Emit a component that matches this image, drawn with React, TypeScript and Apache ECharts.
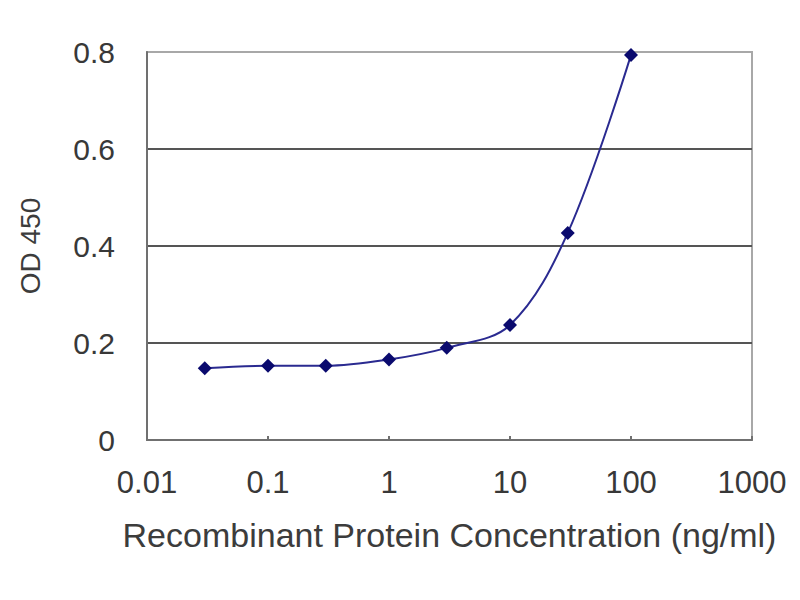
import { useEffect, useRef } from 'react';
import * as echarts from 'echarts';

const concentrations = [0.03, 0.1, 0.3, 1, 3, 10, 30, 100];
const odValues = [0.148, 0.153, 0.153, 0.166, 0.19, 0.237, 0.427, 0.794];
const xTickLabels = ['0.01', '0.1', '1', '10', '100', '1000'];
const yTicks = [0, 0.2, 0.4, 0.6, 0.8];

const fontFamily = '"Liberation Sans", Arial, sans-serif';

export default function App() {
  const chartRef = useRef<HTMLDivElement | null>(null);

  useEffect(() => {
    if (!chartRef.current) {
      return;
    }
    const chart = echarts.init(chartRef.current, undefined, { renderer: 'svg' });
    chart.setOption({
      animation: false,
      backgroundColor: '#ffffff',
      grid: {
        left: 147,
        right: 48,
        top: 52,
        bottom: 160,
        show: true,
        borderColor: '#a8a8a8',
        borderWidth: 2,
      },
      xAxis: {
        type: 'log',
        logBase: 10,
        min: 0.01,
        max: 1000,
        name: 'Recombinant Protein Concentration (ng/ml)',
        nameLocation: 'middle',
        nameGap: 78,
        nameTextStyle: { fontFamily, fontSize: 34, color: '#3c3c3c' },
        axisLine: { lineStyle: { color: '#707070', width: 2 } },
        axisTick: { show: true, inside: true, length: 4, lineStyle: { color: '#707070', width: 2 } },
        minorTick: { show: false },
        splitLine: { show: false },
        axisLabel: {
          fontFamily,
          fontSize: 31,
          color: '#383838',
          margin: 27,
          formatter: (v: number) => {
            const s = String(parseFloat(v.toPrecision(3)));
            return xTickLabels.includes(s) ? s : '';
          },
        },
      },
      yAxis: {
        type: 'value',
        min: yTicks[0],
        max: yTicks[yTicks.length - 1],
        interval: 0.2,
        name: 'OD 450',
        nameLocation: 'middle',
        nameRotate: 90,
        nameGap: 103,
        nameTextStyle: { fontFamily, fontSize: 28, color: '#3c3c3c' },
        axisLine: { show: true, lineStyle: { color: '#707070', width: 2 } },
        axisTick: { show: false },
        splitLine: {
          show: true,
          lineStyle: { color: ['#555', '#555', '#555', '#555', '#a8a8a8'], width: 2 },
        },
        axisLabel: {
          fontFamily,
          fontSize: 30,
          color: '#383838',
          margin: 32,
          formatter: (v: number) => String(parseFloat(v.toFixed(1))),
        },
      },
      series: [
        {
          type: 'line',
          smooth: 0.35,
          data: concentrations.map((c, i) => [c, odValues[i]]),
          symbol: 'diamond',
          symbolSize: 14,
          itemStyle: { color: '#0a0a6e' },
          lineStyle: { color: '#2a2a90', width: 2 },
        },
      ],
    });
    return () => chart.dispose();
  }, []);

  return <div ref={chartRef} style={{ width: 800, height: 600, position: 'absolute', left: 0, top: 0 }} />;
}
